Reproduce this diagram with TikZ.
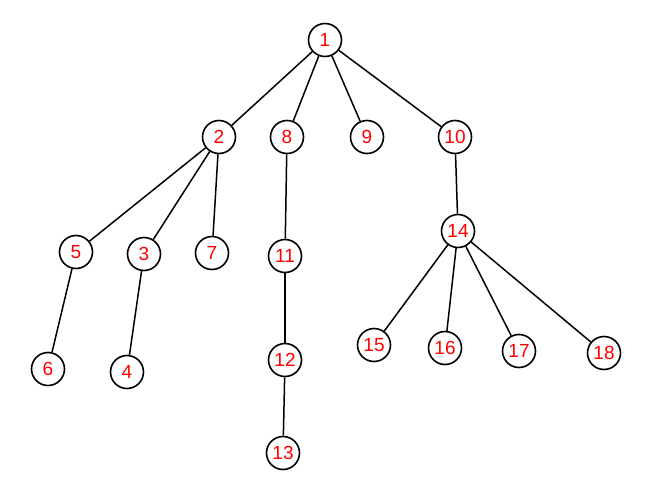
\documentclass[tikz,border=0pt]{standalone}
\usepackage{fontspec}
\setmainfont{Liberation Sans}
\begin{document}
\begin{tikzpicture}[x=1pt,y=-1pt,
  nd/.style={circle,draw=black,line width=1.6pt,minimum size=33pt,inner sep=0pt,fill=white,text=red,font=\fontsize{19}{19}\selectfont},
  ed/.style={line width=1.5pt,black}]
\useasboundingbox (0,0) rectangle (672,487);
\node[nd] (n1) at (325,40) {1};
\node[nd] (n2) at (219,137) {2};
\node[nd] (n8) at (287,137) {8};
\node[nd] (n9) at (367,137) {9};
\node[nd] (n10) at (455,137) {10};
\node[nd] (n5) at (76,252) {5};
\node[nd] (n3) at (144,254) {3};
\node[nd] (n7) at (212,253) {7};
\node[nd] (n11) at (285,256) {11};
\node[nd] (n14) at (458,231) {14};
\node[nd] (n6) at (48,369) {6};
\node[nd] (n4) at (127,372) {4};
\node[nd] (n12) at (285,360) {12};
\node[nd] (n15) at (374,345) {15};
\node[nd] (n16) at (445,348) {16};
\node[nd] (n17) at (519,351) {17};
\node[nd] (n18) at (604,353) {18};
\node[nd] (n13) at (283,453) {13};
\foreach \a/\b in {n1/n2,n1/n8,n1/n9,n1/n10,n2/n5,n2/n3,n2/n7,n8/n11,n11/n12,n12/n13,n10/n14,n14/n15,n14/n16,n14/n17,n14/n18,n5/n6,n3/n4}
  \draw[ed] (\a) -- (\b);
\end{tikzpicture}
\end{document}
